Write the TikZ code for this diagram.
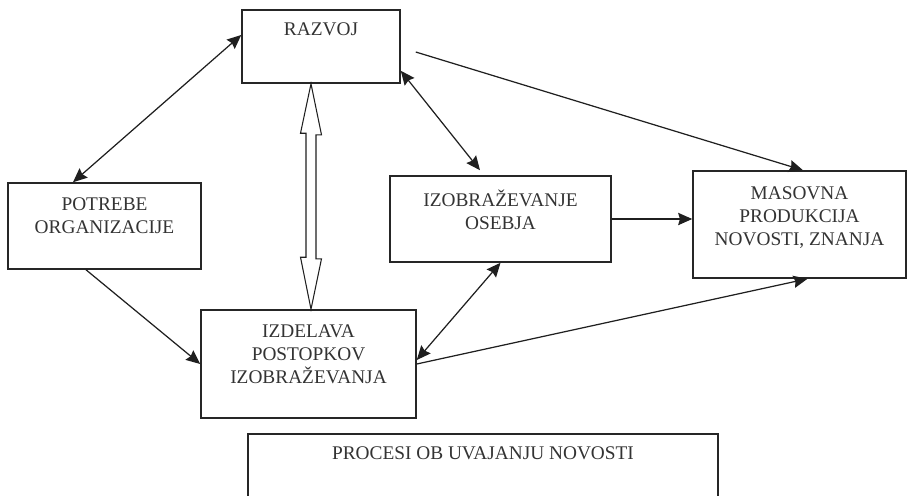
\documentclass[tikz,border=0pt]{standalone}
\usepackage{fontspec}
\setmainfont{Liberation Serif}
\usetikzlibrary{arrows.meta}

\begin{document}
\begin{tikzpicture}[x=0.02cm,y=-0.02cm,>={Stealth[length=8pt,width=7pt,inset=1pt]},
  link/.style={color=black!88,line width=0.7pt},
  box/.style 2 args={draw=black!85,line width=0.9pt,minimum width=#1,minimum height=#2,inner sep=0pt},
  txt/.style={anchor=north,align=center,inner sep=0pt,font=\fontsize{11}{13}\selectfont,text=black!80},
  hollow/.style={draw=black!88,line width=0.6pt,line join=miter}]
\clip (0,0) rectangle (910,495);
\node[box={3.16cm}{1.46cm}] (razvoj) at (321,46.5) {};
\node[box={3.86cm}{1.72cm}] (potrebe) at (104.5,226) {};
\node[box={4.42cm}{1.72cm}] (izobr) at (500.5,219) {};
\node[box={4.26cm}{2.14cm}] (masovna) at (799.5,224.5) {};
\node[box={4.30cm}{2.16cm}] (izdelava) at (308.5,364) {};
\node[box={9.40cm}{2.52cm}] (procesi) at (483,497) {};

\node[txt] (razvoj text) at ([yshift=-0.26cm]razvoj.north) {RAZVOJ};
\node[txt] (potrebe text) at ([yshift=-0.30cm]potrebe.north) {POTREBE\\ORGANIZACIJE};
\node[txt] (izobr text) at ([yshift=-0.28cm]izobr.north) {IZOBRAŽEVANJE\\OSEBJA};
\node[txt] (masovna text) at ([yshift=-0.32cm]masovna.north) {MASOVNA\\PRODUKCIJA\\NOVOSTI, ZNANJA};
\node[txt] (izdelava text) at ([yshift=-0.30cm]izdelava.north) {IZDELAVA\\POSTOPKOV\\IZOBRAŽEVANJA};
\node[txt] (procesi text) at ([yshift=-0.26cm]procesi.north) {PROCESI OB UVAJANJU NOVOSTI};

\coordinate (razvoj out) at ([xshift=0.3cm,yshift=-0.11cm]razvoj.east);
\coordinate (link top) at ([xshift=-0.2cm]razvoj.south);
\coordinate (link bot) at (link top |- izdelava.north);

\path[link,<->] ([yshift=0.23cm]razvoj.west) edge ([xshift=-0.63cm]potrebe.north)
([yshift=0.26cm]razvoj.south east) edge ([xshift=-0.41cm,yshift=0.1cm]izobr.north)
(izobr.south) edge ([yshift=0.08cm]izdelava.east);
\path[link,->] (razvoj out) edge ([xshift=0.07cm]masovna.north)
(izobr.east) edge (izobr.east -| masovna.west)
([xshift=-0.37cm]potrebe.south) edge (izdelava.west)
(izdelava.east) edge ([xshift=0.16cm]masovna.south);

\draw[hollow] (link top) -- ++(10.5,51) -- ++(-5.5,0) -- ++(0,124) -- ++(5.5,0) -- (link bot)
-- ++(-10.5,-52) -- ++(5.5,0) -- ++(0,-124) -- ++(-5.5,0) -- cycle;
\end{tikzpicture}
\end{document}
